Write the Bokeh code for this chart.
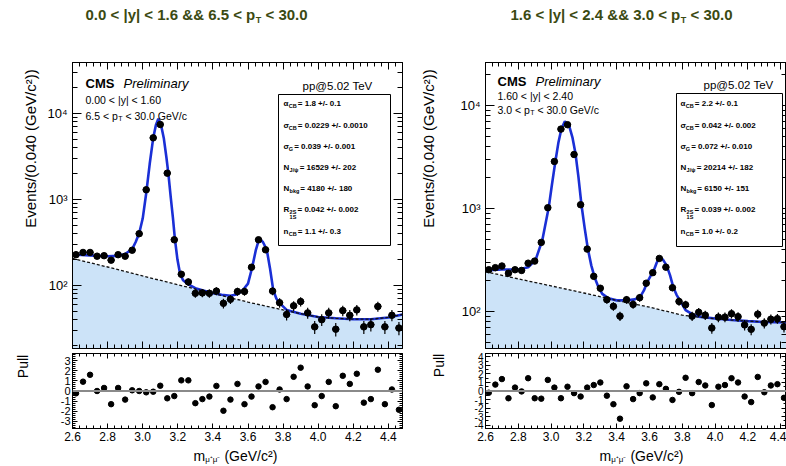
import numpy as np
from bokeh.plotting import figure
from bokeh.models import (Range1d, FixedTicker, Label, BoxAnnotation, LinearAxis,
                          LogAxis, Span, PrintfTickFormatter)
from bokeh.layouts import row, column
from bokeh.embed import file_html
from bokeh.resources import INLINE

FONT = "Liberation Sans"

# ---------------- data ----------------
# bin centres (bin width 0.040 GeV/c^2, 2.60 - 4.48)
mass_bins = np.round(np.arange(2.62, 4.47, 0.04), 2)

events_left = [228, 242, 242, 219, 222, 197, 228, 219, 257, 400, 1297, 5210, 7450, 2023,
               340, 135, 110, 81, 82, 81, 86, 62, 69, 85, 85, 163, 340, 260, 86, 63, 46,
               58, 65, 48, 33, 40, 48, 31, 51, 45, 52, 33, 35, 57, 33, 45, 32]
pull_left = [-0.23, 0.92, 1.6, 0.0, 0.3, -1.3, 0.3, -0.85, 0.07, 0.0, -0.13, -0.07, 0.52,
             -0.72, -0.5, 1.05, 1.05, -1.2, -0.8, -0.55, 0.5, -1.95, -0.85, 0.7, -1.3,
             -0.55, 0.45, 0.9, -1.6, 0.15, -0.8, 1.4, 2.3, 0.45, -1.4, -0.5, 0.9, -1.5,
             1.5, 0.7, 1.7, -1.15, -0.8, 2.1, -1.3, 0.15, -1.85]

events_right = [254, 266, 276, 235, 254, 250, 294, 308, 468, 1016, 2857, 5890, 6500, 3340,
                1087, 403, 219, 168, 130, 112, 90, 130, 117, 136, 188, 238, 327, 269, 170,
                125, 116, 90, 98, 92, 69, 88, 88, 95, 89, 74, 67, 94, 77, 84, 85, 71, 75]
pull_right = [-0.2, 0.75, 1.4, -0.85, 0.4, -0.05, 1.5, -0.85, -0.9, 1.3, 0.4, -0.85, 0.5,
              -0.25, -0.65, 0.4, 0.7, 1.0, -0.55, -1.55, -3.25, 0.55, -0.95, -0.25, 0.9,
              -0.75, 0.8, 0.25, -1.05, -0.1, 1.55, -0.25, 1.05, 0.65, -1.65, 0.5, 0.7,
              1.5, 1.0, -0.65, -1.3, 1.65, -0.15, 0.65, 0.8, -0.8]

# total fit curve
fit_mass_left = [2.60, 2.70, 2.80, 2.86, 2.90, 2.94, 2.96, 2.98, 3.00, 3.02, 3.04, 3.06, 3.075,
                 3.089, 3.104, 3.12, 3.135, 3.146, 3.16, 3.172, 3.184, 3.198, 3.213, 3.23,
                 3.26, 3.30, 3.35, 3.40, 3.45, 3.50, 3.54, 3.57, 3.60, 3.624, 3.645, 3.664,
                 3.685, 3.707, 3.725, 3.744, 3.762, 3.782, 3.82, 3.90, 4.00, 4.10, 4.20,
                 4.30, 4.40, 4.48]
fit_left = [229, 224, 219, 221, 232, 265, 320, 405, 600, 1180, 2600, 5200, 7300, 8670, 7450,
            5200, 3100, 2023, 1050, 620, 340, 200, 137, 115, 103, 93, 87, 81.5, 78, 76, 79,
            88, 105, 163, 260, 350, 320, 260, 160, 88, 70, 62, 52, 47, 43, 41.5, 40.5,
            40.5, 42.5, 46]
bkg_mass_left = [2.60, 2.80, 3.00, 3.20, 3.40, 3.60, 3.80, 3.90, 4.00, 4.10, 4.20, 4.30,
                 4.40, 4.48]
bkg_left = [206, 164, 129, 102, 81, 64, 52, 47, 43, 41.5, 40.5, 40.5, 42.5, 46]

fit_mass_right = [2.60, 2.70, 2.80, 2.86, 2.905, 2.946, 2.986, 3.005, 3.027, 3.045, 3.063,
                  3.084, 3.108, 3.13, 3.149, 3.167, 3.185, 3.205, 3.224, 3.245, 3.265, 3.29,
                  3.312, 3.35, 3.40, 3.464, 3.51, 3.545, 3.566, 3.586, 3.606, 3.626, 3.645,
                  3.663, 3.684, 3.704, 3.725, 3.745, 3.765, 3.785, 3.82, 3.86, 3.90, 4.00,
                  4.10, 4.20, 4.30, 4.48]
fit_right = [250, 255, 255, 268, 315, 489, 1030, 1700, 2925, 4400, 5940, 7000, 6500, 4900,
             3390, 2000, 1087, 640, 406, 280, 215, 170, 148, 134, 128, 128, 131, 140, 160,
             192, 220, 250, 300, 336, 315, 280, 225, 172, 145, 128, 103, 94, 89, 85.5,
             82.5, 80.5, 79, 78]
bkg_mass_right = [2.60, 2.80, 3.00, 3.20, 3.40, 3.60, 3.80, 3.90, 4.00, 4.10, 4.20, 4.30,
                  4.48]
bkg_right = [243, 207, 177, 151, 128, 110, 92, 88, 85, 82.5, 80.5, 79, 78]

titles_left = ["0.0 < |y| < 1.6 && 6.5 < p", "T", "< 30.0"]
titles_right = ["1.6 < |y| < 2.4 && 3.0 < p", "T", "< 30.0"]
cuts_left = ["0.00 < |y| < 1.60", "6.5 < p", "T", "< 30.0 GeV/c"]
cuts_right = ["1.60 < |y| < 2.40", "3.0 < p", "T", "< 30.0 GeV/c"]
params_left = [("α", "CB", "= 1.8 +/- 0.1"), ("σ", "CB", "= 0.0229 +/- 0.0010"),
               ("σ", "G", "= 0.039 +/- 0.001"), ("N", "J/ψ", "= 16529 +/- 202"),
               ("N", "bkg", "= 4180 +/- 180"), ("R", "2S/1S", "= 0.042 +/- 0.002"),
               ("n", "CB", "= 1.1 +/- 0.3")]
params_right = [("α", "CB", "= 2.2 +/- 0.1"), ("σ", "CB", "= 0.042 +/- 0.002"),
                ("σ", "G", "= 0.072 +/- 0.010"), ("N", "J/ψ", "= 20214 +/- 182"),
                ("N", "bkg", "= 6150 +/- 151"), ("R", "2S/1S", "= 0.039 +/- 0.002"),
                ("n", "CB", "= 1.0 +/- 0.2")]
y_title = "Events/(0.040 (GeV/c²))"
x_title = ["m", "μ⁺μ⁻", "(GeV/c²)"]

# ---------------- helpers ----------------
X_MAJ = [round(v, 2) for v in np.arange(2.6, 4.41, 0.2)]
X_MIN = [round(v, 2) for v in np.arange(2.6, 4.5, 0.04)]
Y_MAJ = [100, 1000, 10000]
Y_MIN = [v * d for d in (10, 100, 1000, 10000) for v in range(2, 10)]
SYM_W = {"α": 0.61, "σ": 0.61, "N": 0.722, "R": 0.722, "n": 0.611}
SUB_W = {"CB": 1.444, "G": 0.778, "J/ψ": 1.61, "bkg": 1.72, "2S/1S": 1.22}


def lab(p, fl, fb, px, py, text, size, style="normal", align="left", color="black", angle=0.0):
    """Place a label at global page pixel (px, py); (fl, fb) = frame left / bottom."""
    p.add_layout(Label(x=float(px - fl), y=float(fb - py), x_units="screen", y_units="screen",
                       text=text, text_font=FONT, text_font_size=f"{size}px",
                       text_font_style=style, text_align=align, text_baseline="middle",
                       text_color=color, angle=float(angle)))


def style_axis(ax, ticker, tick_in, minor_in, show_labels, label_size="11px", standoff=3):
    ax.ticker = ticker
    ax.major_tick_in = tick_in
    ax.major_tick_out = 0
    ax.minor_tick_in = minor_in
    ax.minor_tick_out = 0
    ax.axis_line_color = "black"
    ax.major_tick_line_color = "black"
    ax.minor_tick_line_color = "black"
    if show_labels:
        ax.major_label_text_font = FONT
        ax.major_label_text_font_size = label_size
        ax.major_label_text_color = "black"
        ax.major_label_standoff = standoff
    else:
        ax.major_label_text_font_size = "1px"
        ax.major_label_text_color = None
        ax.major_label_standoff = 0


def base_fig(width, height, xr, yr, bl, br, bt, bb, log=False):
    p = figure(width=width, height=height, x_range=Range1d(*xr), y_range=Range1d(*yr),
               y_axis_type="log" if log else "linear", output_backend="svg",
               toolbar_location=None, min_border_left=bl, min_border_right=br,
               min_border_top=bt, min_border_bottom=bb)
    p.grid.visible = False
    p.outline_line_color = "black"
    p.outline_line_width = 1
    p.background_fill_color = "white"
    p.border_fill_color = "white"
    return p


def text_fig(width, height):
    p = figure(width=width, height=height, x_range=Range1d(0, width),
               y_range=Range1d(0, height), output_backend="svg", toolbar_location=None,
               x_axis_location=None, y_axis_location=None, min_border=0)
    p.grid.visible = False
    p.outline_line_color = None
    p.background_fill_color = "white"
    p.border_fill_color = "white"
    return p


def make_main(events, fit_m, fit_v, bkg_m, bkg_v, x_end, y_lim, width, bl, br):
    p = base_fig(width, 310, (2.6, x_end), y_lim, bl, br, 22, 2, log=True)
    style_axis(p.xaxis[0], FixedTicker(ticks=X_MAJ, minor_ticks=X_MIN), 7, 4, False)
    top = LinearAxis()
    style_axis(top, FixedTicker(ticks=X_MAJ, minor_ticks=X_MIN), 7, 4, False)
    p.add_layout(top, "above")
    style_axis(p.yaxis[0], FixedTicker(ticks=Y_MAJ, minor_ticks=Y_MIN), 9, 5, True, "13px", 5)
    p.yaxis[0].major_label_overrides = {100: "10²", 1000: "10³", 10000: "10⁴"}
    rax = LogAxis()
    style_axis(rax, FixedTicker(ticks=Y_MAJ, minor_ticks=Y_MIN), 9, 5, False)
    p.add_layout(rax, "right")

    p.varea(x=bkg_m, y1=1, y2=bkg_v, fill_color="#cce3f8")
    p.line(fit_m, fit_v, line_color="#1a2fd6", line_width=2.6)
    p.line(bkg_m, bkg_v, line_color="#111111", line_width=1.3, line_dash="3 2")
    ev = np.array(events, dtype=float)
    m = mass_bins[:len(ev)]
    err = np.sqrt(ev)
    p.segment(x0=m, y0=ev - err, x1=m, y1=ev + err, line_color="black", line_width=1.2)
    p.segment(x0=m - 0.02, y0=ev, x1=m + 0.02, y1=ev, line_color="black", line_width=1.2)
    p.scatter(m, ev, size=6.5, color="black")
    return p


def make_pull(pulls, x_end, ylim, width, bl, br, maj, mnr, lsize):
    p = base_fig(width, 96, (2.6, x_end), ylim, bl, br, 3, 18)
    p.add_layout(Span(location=0, dimension="width", line_color="#8a8a8a", line_width=2))
    style_axis(p.xaxis[0], FixedTicker(ticks=X_MAJ, minor_ticks=X_MIN), 5, 3, True, "12px", 3)
    p.xaxis[0].formatter = PrintfTickFormatter(format="%.1f")
    top = LinearAxis()
    style_axis(top, FixedTicker(ticks=X_MAJ, minor_ticks=X_MIN), 5, 3, False)
    p.add_layout(top, "above")
    style_axis(p.yaxis[0], FixedTicker(ticks=maj, minor_ticks=mnr), 5, 3, True, lsize, 2)
    p.yaxis[0].formatter = PrintfTickFormatter(format="%d")
    rax = LinearAxis()
    style_axis(rax, FixedTicker(ticks=maj, minor_ticks=mnr), 5, 3, False)
    p.add_layout(rax, "right")
    p.scatter(mass_bins[:len(pulls)], pulls, size=5.5, color="black")
    return p


def annotate_title(p, fl, fb, title_x, titles):
    w1 = 11.317 * 15
    col = "#3b4a12"
    lab(p, fl, fb, title_x, 14, titles[0], 15, "bold", color=col)
    lab(p, fl, fb, title_x + w1 + 0.5, 19, titles[1], 9, "bold", color=col)
    lab(p, fl, fb, title_x + w1 + 6.0 + 4.2, 14, titles[2], 15, "bold", color=col)


def annotate_main(p, fl, fb, cms_x, cms_y, dy, cuts, pp_x, pp_y, box, x0, rows, params):
    lab(p, fl, fb, cms_x, cms_y, "CMS", 13, "bold")
    lab(p, fl, fb, cms_x + 38, cms_y, "Preliminary", 13, "italic")
    lab(p, fl, fb, cms_x, cms_y + dy, cuts[0], 10.5)
    wp = 3.086 * 10.5
    lab(p, fl, fb, cms_x, cms_y + 2 * dy, cuts[1], 10.5)
    lab(p, fl, fb, cms_x + wp + 0.3, cms_y + 2 * dy + 3, cuts[2], 7)
    lab(p, fl, fb, cms_x + wp + 4.6 + 2.9, cms_y + 2 * dy, cuts[3], 10.5)
    lab(p, fl, fb, pp_x, pp_y, "pp@5.02 TeV", 11.5, align="center")
    bx0, bx1, by0, by1 = box
    p.add_layout(BoxAnnotation(left=float(bx0 - fl), right=float(bx1 - fl),
                               top=float(fb - by0), bottom=float(fb - by1),
                               left_units="screen", right_units="screen",
                               top_units="screen", bottom_units="screen",
                               fill_color="white", fill_alpha=1.0, line_color="black",
                               line_width=1, line_alpha=1.0))
    for py, (sym, sub, rest) in zip(rows, params):
        lab(p, fl, fb, x0, py, sym, 8, "bold")
        xs = x0 + SYM_W[sym] * 8 + 0.3
        if sub == "2S/1S":
            lab(p, fl, fb, xs, py + 2, "2S", 5.5, "bold")
            lab(p, fl, fb, xs, py + 7.5, "1S", 5.5, "bold")
        else:
            lab(p, fl, fb, xs, py + 2, sub, 5.5, "bold")
        lab(p, fl, fb, xs + SUB_W[sub] * 5.5 + 1.2, py, rest, 8, "bold")


def annotate_xtitle(p, fl, fb, mx):
    lab(p, fl, fb, mx, 455, x_title[0], 14)
    lab(p, fl, fb, mx + 11.7, 459, x_title[1], 8)
    lab(p, fl, fb, mx + 27.0 + 3.9, 455, x_title[2], 14)


ROWS = [103, 125, 146, 167, 188, 209, 231]

# ---------------- left pad (global x 0..405) ----------------
# note: text strips sharing a row with a plot get their frame aligned to that plot
x_end_left = 2.6 + 330 / 175.5
titleL = text_fig(405, 40)
annotate_title(titleL, 0, 40, 85, titles_left)

ytL = text_fig(40, 310)
lab(ytL, 0, 348, 30, 148, y_title, 15, align="center", angle=np.pi / 2)
mainL = make_main(events_left, fit_mass_left, fit_left, bkg_mass_left, bkg_left, x_end_left,
                  (10 ** 1.267, 10 ** 4.593), 365, 32, 3)
annotate_main(mainL, 72, 348, 85, 83, 16, cuts_left, 337, 85,
              (278, 390, 94, 245), 283, ROWS, params_left)

ptL = text_fig(40, 96)
lab(ptL, 0, 428, 22, 366, "Pull", 14, align="center", angle=np.pi / 2)
pullL = make_pull(pull_left, x_end_left, (-3.7, 3.7), 365, 32, 3,
                  [-3, -2, -1, 0, 1, 2, 3],
                  [round(v, 2) for v in np.arange(-3.6, 3.61, 0.2)], "11px")
xtL = text_fig(405, 20)
annotate_xtitle(xtL, 0, 466, 193)

colL = column(titleL, row(ytL, mainL), row(ptL, pullL), xtL)

# ---------------- right pad (global x 405..786) ----------------
x_end_right = 2.6 + 301 / 164.0
titleR = text_fig(381, 40)
annotate_title(titleR, 405, 40, 510, titles_right)

ytR = text_fig(40, 310)
lab(ytR, 405, 348, 428, 148, y_title, 15, align="center", angle=np.pi / 2)
mainR = make_main(events_right, fit_mass_right, fit_right, bkg_mass_right, bkg_right,
                  x_end_right, (10 ** 1.64, 10 ** 4.417), 341, 40, 0)
annotate_main(mainR, 485, 348, 497, 81, 14, cuts_right, 738, 84,
              (676, 782, 93, 246), 680, ROWS, params_right)

ptR = text_fig(40, 96)
lab(ptR, 405, 428, 438, 365, "Pull", 14, align="center", angle=np.pi / 2)
pullR = make_pull(pull_right, x_end_right, (-4.4, 4.4), 341, 40, 0,
                  [-4, -3, -2, -1, 0, 1, 2, 3, 4],
                  [round(v, 2) for v in np.arange(-4.0, 4.01, 0.5)], "10px")
xtR = text_fig(381, 20)
annotate_xtitle(xtR, 405, 466, 599)

colR = column(titleR, row(ytR, mainR), row(ptR, pullR), xtR)

layout = row(colL, colR)
open("out.html", "w").write(file_html(layout, INLINE))
